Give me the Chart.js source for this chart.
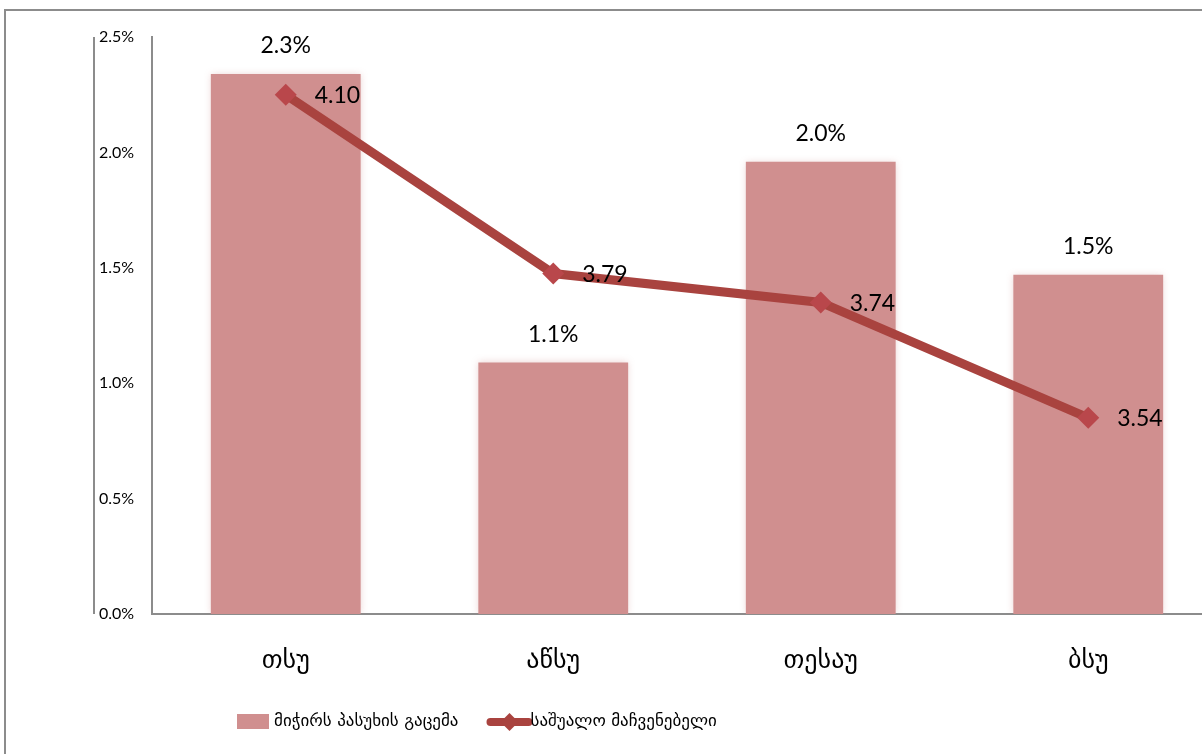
<!DOCTYPE html>
<html>
<head>
<meta charset="utf-8">
<script src="https://cdn.jsdelivr.net/npm/chart.js@4"></script>
<style>
html, body { margin: 0; padding: 0; background: #fff; overflow: hidden; }
#wrap { position: absolute; left: 0; top: 0; width: 1202px; height: 754px; overflow: hidden; }
#frame { position: absolute; left: 4px; top: 9px; width: 1400px; height: 900px;
         border-left: 2px solid #8c8c8c; border-top: 2px solid #8c8c8c; }
canvas { position: absolute; left: 0; top: 0; }
</style>
</head>
<body>
<div id="wrap">
  <div id="frame"></div>
  <canvas id="chart" width="1262" height="754"></canvas>
</div>
<script>
const universities = ['თსუ', 'აწსუ', 'თესაუ', 'ბსუ'];
const hardToAnswer = [0.0234, 0.0109, 0.0196, 0.0147];
const averageScore = [4.10, 3.79, 3.74, 3.54];
const percentTicks = [0, 0.005, 0.01, 0.015, 0.02, 0.025];
const seriesNames = ['მიჭირს პასუხის გაცემა', 'საშუალო მაჩვენებელი'];

const barColor = '#d08f8f';
const lineColor = '#a9433f';
const pointColor = '#b9474b';
const axisGrey = '#8c8c8c';
const numFont = 'Lato, "DejaVu Sans", sans-serif';
const geoFont = '"DejaVu Sans", sans-serif';

// soft glow round the bars
const glowPlugin = {
    id: 'glow',
    beforeDatasetDraw(chart, args) {
        if (args.index !== 0) return;
        chart.ctx.save();
        chart.ctx.shadowColor = 'rgba(200, 130, 130, 0.35)';
        chart.ctx.shadowBlur = 7;
    },
    afterDatasetDraw(chart, args) {
        if (args.index !== 0) return;
        chart.ctx.restore();
    }
};

// value labels, extra axis line and the legend
const labelPlugin = {
    id: 'labels',
    afterDraw(chart) {
        const ctx = chart.ctx;
        const area = chart.chartArea;
        const yScale = chart.scales.y;
        ctx.save();

        ctx.strokeStyle = axisGrey;
        ctx.lineWidth = 2;
        ctx.beginPath();
        ctx.moveTo(yScale.left - 5, area.top);
        ctx.lineTo(yScale.left - 5, area.bottom);
        ctx.stroke();

        ctx.fillStyle = '#000';
        ctx.font = '23px ' + numFont;
        ctx.textBaseline = 'middle';
        chart.getDatasetMeta(0).data.forEach((bar, i) => {
            ctx.textAlign = 'center';
            ctx.fillText((hardToAnswer[i] * 100).toFixed(1) + '%', bar.x, bar.y - 28);
        });
        chart.getDatasetMeta(1).data.forEach((pt, i) => {
            ctx.textAlign = 'left';
            ctx.fillText(averageScore[i].toFixed(2), pt.x + 29, pt.y + 1);
        });

        // legend
        const ly = area.bottom + 108;
        let lx = area.left + 85;
        ctx.font = '17px ' + geoFont;
        ctx.textAlign = 'left';
        ctx.fillStyle = barColor;
        ctx.fillRect(lx, ly - 8, 32, 15);
        ctx.fillStyle = '#000';
        ctx.fillText(seriesNames[0], lx + 37, ly);
        lx += 37 + ctx.measureText(seriesNames[0]).width + 32;

        ctx.strokeStyle = lineColor;
        ctx.lineWidth = 8;
        ctx.lineCap = 'round';
        ctx.beginPath();
        ctx.moveTo(lx, ly);
        ctx.lineTo(lx + 38, ly);
        ctx.stroke();
        ctx.fillStyle = lineColor;
        ctx.beginPath();
        ctx.moveTo(lx + 19, ly - 9);
        ctx.lineTo(lx + 28, ly);
        ctx.lineTo(lx + 19, ly + 9);
        ctx.lineTo(lx + 10, ly);
        ctx.closePath();
        ctx.fill();
        ctx.fillStyle = '#000';
        ctx.fillText(seriesNames[1], lx + 40, ly);

        ctx.restore();
    }
};

new Chart(document.getElementById('chart').getContext('2d'), {
    data: {
        labels: universities,
        datasets: [
            {
                type: 'bar',
                label: seriesNames[0],
                data: hardToAnswer,
                backgroundColor: barColor,
                categoryPercentage: 1,
                barPercentage: 0.56,
                yAxisID: 'y',
                order: 2
            },
            {
                type: 'line',
                label: seriesNames[1],
                data: averageScore,
                borderColor: lineColor,
                borderWidth: 9,
                tension: 0,
                pointStyle: 'rectRot',
                pointRadius: 11,
                pointBackgroundColor: pointColor,
                pointBorderWidth: 0,
                yAxisID: 'y2',
                order: 1
            }
        ]
    },
    options: {
        responsive: false,
        animation: false,
        layout: { padding: { left: 99, top: 37, right: 40, bottom: 0 } },
        plugins: {
            legend: { display: false },
            tooltip: { enabled: false }
        },
        scales: {
            x: {
                offset: true,
                grid: { display: false },
                border: { color: axisGrey, width: 2 },
                ticks: { color: '#000', padding: 24, font: { family: geoFont, size: 26 } },
                afterFit: scale => { scale.height = 140; }
            },
            y: {
                position: 'left',
                min: 0,
                max: 0.025,
                grid: { display: false },
                border: { color: axisGrey, width: 2 },
                afterBuildTicks: scale => { scale.ticks = percentTicks.map(v => ({ value: v })); },
                afterFit: scale => { scale.width = 53; },
                ticks: {
                    color: '#000',
                    crossAlign: 'far',
                    font: { family: numFont, size: 16 },
                    callback: v => (v * 100).toFixed(1) + '%'
                }
            },
            y2: {
                display: false,
                min: 3.2,
                max: 4.2
            }
        }
    },
    plugins: [glowPlugin, labelPlugin]
});
</script>
</body>
</html>
